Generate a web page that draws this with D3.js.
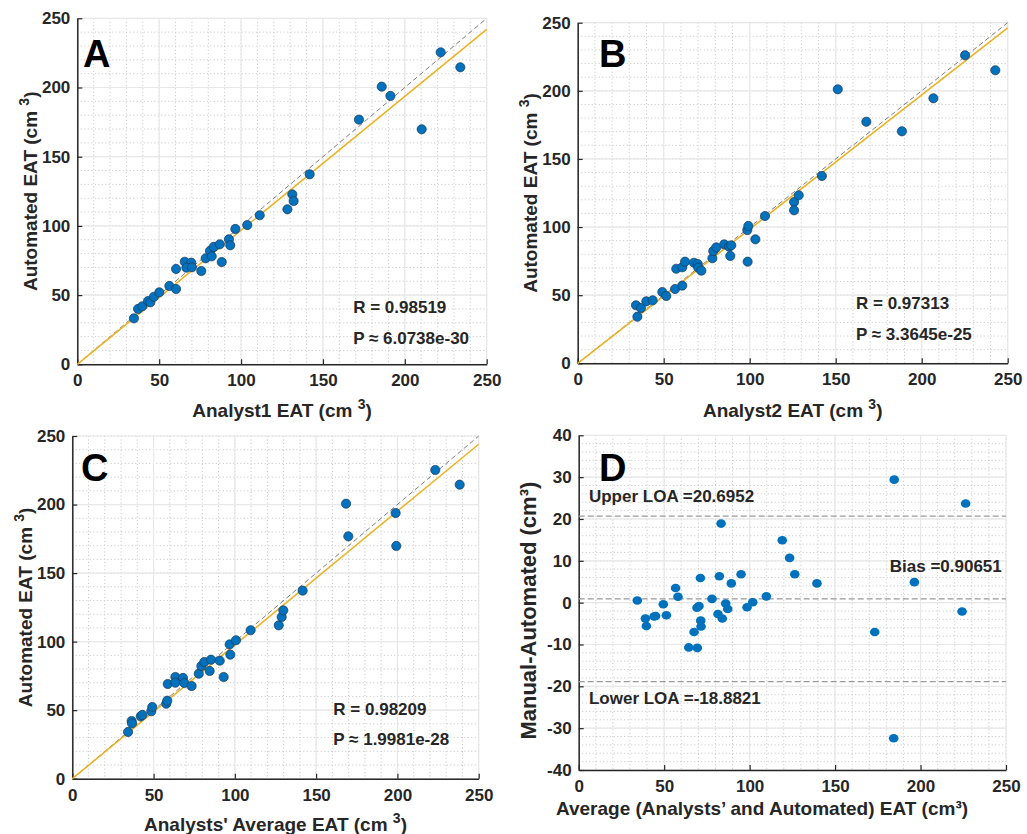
<!DOCTYPE html>
<html>
<head>
<meta charset="utf-8">
<script src="https://cdn.jsdelivr.net/npm/d3@7"></script>
<style>
  body { margin: 0; background: #fff; }
  text { font-family: "Liberation Sans", Arial, sans-serif; font-weight: bold; fill: #262626; }
</style>
</head>
<body>
<div id="chart"></div>
<script>
// values

// Panel A: Analyst1 vs automated
var aX = [34.6, 37.1, 39.7, 43.2, 44.6, 46.8, 50.1, 56.2, 60.3, 60.3, 65.6, 69.6, 66.6, 70.0, 75.7, 78.4, 81.0, 83.3, 82.1, 87.0, 88.2, 92.6, 93.4, 96.5, 103.8, 111.4, 128.3, 131.3, 132.1, 141.9, 172.0, 185.9, 191.2, 210.3, 221.9, 233.9];
var aY = [33.2, 40.0, 41.9, 45.7, 44.8, 48.8, 52.0, 56.6, 54.4, 68.9, 74.1, 73.4, 69.8, 70.1, 67.4, 76.6, 81.9, 84.8, 78.0, 86.7, 73.9, 90.3, 86.0, 97.8, 100.6, 107.7, 112.0, 122.8, 118.0, 137.3, 176.8, 200.6, 193.9, 169.8, 225.4, 214.6];

// Panel B: Analyst2 vs automated
var bX = [34.7, 33.9, 36.8, 39.9, 43.6, 49.2, 51.5, 56.6, 60.8, 57.3, 60.8, 62.4, 67.6, 69.8, 70.1, 71.9, 78.3, 78.8, 80.6, 85.2, 88.0, 89.3, 88.7, 98.8, 98.6, 99.2, 103.3, 108.9, 125.8, 125.8, 128.5, 142.0, 151.2, 167.8, 188.5, 206.8, 225.2, 242.8];
var bY = [34.2, 42.6, 40.6, 45.5, 46.2, 52.3, 49.4, 54.5, 57.0, 69.4, 70.5, 74.6, 73.8, 72.9, 70.2, 68.0, 77.1, 82.4, 85.1, 87.3, 85.6, 86.6, 78.8, 74.6, 97.8, 100.8, 91.0, 108.1, 118.4, 112.3, 123.3, 137.5, 201.1, 177.3, 170.3, 194.5, 226.1, 215.1];

// Panel C: analysts' average vs automated
var cX = [34.3, 36.5, 36.7, 42.1, 43.1, 48.6, 49.2, 57.8, 58.4, 58.7, 63.4, 63.4, 68.1, 68.9, 73.4, 77.8, 79.4, 81.2, 84.5, 85.3, 90.7, 93.1, 96.8, 97.2, 100.7, 109.7, 127.0, 128.8, 129.8, 141.7, 168.4, 169.8, 198.9, 199.3, 223.3, 238.3];
var cY = [34.1, 42.1, 40.4, 45.5, 46.5, 49.2, 52.3, 54.7, 56.9, 69.1, 74.2, 70.0, 73.5, 69.8, 67.6, 76.6, 82.2, 85.1, 78.6, 86.8, 86.1, 74.2, 98.0, 90.5, 101.0, 108.3, 111.9, 118.0, 122.8, 137.2, 200.6, 176.8, 193.8, 169.8, 225.2, 214.5];

// Panel D: Bland-Altman
var dX = [34.3, 39.0, 39.6, 44.1, 45.0, 51.3, 49.5, 56.7, 58.1, 71.2, 67.5, 64.4, 69.4, 69.2, 70.4, 71.4, 71.6, 78.0, 82.3, 81.5, 84.0, 86.0, 87.2, 89.3, 95.0, 98.5, 101.8, 109.8, 83.3, 119.1, 123.4, 126.4, 139.4, 184.6, 226.4, 196.4, 224.3, 173.2, 184.3];
var dY = [0.5, -3.8, -5.6, -3.3, -3.2, -3.0, -0.4, 3.5, 1.4, 5.9, -7.0, -10.7, -10.8, -1.2, -0.8, -4.3, -5.7, 0.9, 6.3, -2.7, -3.8, -0.2, -1.5, 4.6, 6.8, -1.1, 0.1, 1.5, 18.9, 14.9, 10.7, 6.8, 4.6, 29.4, 23.7, 4.9, -2.1, -7.0, -32.4];

// fit line slopes (through origin) and stats
var fitSlopes = [0.968, 0.985, 0.976];
var rTexts = ["R = 0.98519", "R = 0.97313", "R = 0.98209"];
var pTexts = ["P \u2248 6.0738e-30", "P \u2248 3.3645e-25", "P \u2248 1.9981e-28"];
var xLabels = ["Analyst1 EAT (cm", "Analyst2 EAT (cm", "Analysts' Average EAT (cm"];
var loaValues = [20.6952, 0.90651, -18.8821];
var loaLabels = ["Upper LOA =20.6952", "Bias =0.90651", "Lower LOA =-18.8821"];

var xTicks = [0, 50, 100, 150, 200, 250];
var yTicksD = [-40, -30, -20, -10, 0, 10, 20, 30, 40];

var svg = d3.select("#chart")
  .append("svg")
  .attr("width", 1027)
  .attr("height", 834);

// draws grid, axes and tick labels for one panel
function frame(g, x, y, xMinor, yMinor, xMajor, yMajor) {
  var w = x.range()[1], h = y.range()[0];

  g.selectAll(".minx").data(xMinor).enter().append("line")
    .attr("x1", d => x(d)).attr("x2", d => x(d)).attr("y1", 0).attr("y2", h)
    .attr("stroke", "#c4c4c4").attr("stroke-dasharray", "1,2.5");
  g.selectAll(".miny").data(yMinor).enter().append("line")
    .attr("y1", d => y(d)).attr("y2", d => y(d)).attr("x1", 0).attr("x2", w)
    .attr("stroke", "#c4c4c4").attr("stroke-dasharray", "1,2.5");
  g.selectAll(".majx").data(xMajor).enter().append("line")
    .attr("x1", d => x(d)).attr("x2", d => x(d)).attr("y1", 0).attr("y2", h)
    .attr("stroke", "#e8e8e8").attr("stroke-width", 1.2);
  g.selectAll(".majy").data(yMajor).enter().append("line")
    .attr("y1", d => y(d)).attr("y2", d => y(d)).attr("x1", 0).attr("x2", w)
    .attr("stroke", "#e8e8e8").attr("stroke-width", 1.2);

  var bottom = d3.axisBottom(x).tickValues(xMajor).tickSizeInner(-5).tickSizeOuter(0)
    .tickPadding(10).tickFormat(d => String(d));
  var left = d3.axisLeft(y).tickValues(yMajor).tickSizeInner(-5).tickSizeOuter(0)
    .tickPadding(7).tickFormat(d => String(d));

  var gb = g.append("g").attr("transform", `translate(0,${h})`).call(bottom);
  var gl = g.append("g").call(left);
  [gb, gl].forEach(function(a) {
    a.select(".domain").attr("stroke", "#262626").attr("stroke-width", 1.5);
    a.selectAll(".tick line").attr("stroke", "#262626").attr("stroke-width", 1.2);
    a.selectAll(".tick text")
      .style("font-family", "'Liberation Sans', Arial, sans-serif")
      .style("font-weight", "bold").style("font-size", "17px").attr("fill", "#262626");
  });
}

// axis label with raised "3"
function supLabel(g, txt, tx, ty, rotate) {
  var t = g.append("text")
    .attr("transform", `translate(${tx},${ty})` + (rotate ? " rotate(-90)" : ""))
    .attr("text-anchor", "middle")
    .attr("dy", "0.35em")
    .style("font-size", "19px");
  t.append("tspan").text(txt + " ");
  t.append("tspan").attr("dy", -8).style("font-size", "14px").text("3");
  t.append("tspan").attr("dy", 8).text(")");
}

var panels = [
  { xs: aX, ys: aY, left: 77.3, top: 18.3, w: 409.4, h: 346, letter: "A", lx: 83, ly: 53, ylx: 30, xly: 410, tx: 168.5, ry: 41.6, py: 18.8 },
  { xs: bX, ys: bY, left: 577.7, top: 22.7, w: 430, h: 340.6, letter: "B", lx: 599, ly: 53, ylx: 530, xly: 410, tx: 161.8, ry: 44.5, py: 21.3 },
  { xs: cX, ys: cY, left: 72.3, top: 436, w: 406.4, h: 342.7, letter: "C", lx: 81, ly: 467, ylx: 25, xly: 824, tx: 160.6, ry: 50.6, py: 28.7 }
];

panels.forEach(function(p, i) {
  var g = svg.append("g").attr("transform", `translate(${p.left},${p.top})`);
  var x = d3.scaleLinear().domain([0, 250]).range([0, p.w]);
  var y = d3.scaleLinear().domain([0, 250]).range([p.h, 0]);

  frame(g, x, y, d3.range(10, 251, 10), d3.range(10, 251, 10), xTicks, xTicks);

  // identity line
  g.append("line")
    .attr("x1", x(0)).attr("y1", y(0)).attr("x2", x(250)).attr("y2", y(250))
    .attr("stroke", "#808080").attr("stroke-width", 1).attr("stroke-dasharray", "5,3");

  // fitted line
  g.append("line")
    .attr("x1", x(0)).attr("y1", y(0)).attr("x2", x(250)).attr("y2", y(250 * fitSlopes[i]))
    .attr("stroke", "#EDB120").attr("stroke-width", 1.5);

  g.selectAll("circle")
    .data(p.xs.map((v, k) => [v, p.ys[k]]))
    .enter()
    .append("circle")
    .attr("cx", d => x(d[0]))
    .attr("cy", d => y(d[1]))
    .attr("r", 4.6)
    .attr("fill", "#0072BD")
    .attr("stroke", "#1d3a57")
    .attr("stroke-width", 0.7);

  g.append("text")
    .attr("x", x(p.tx)).attr("y", y(p.ry)).attr("dy", "0.35em")
    .style("font-size", "17px").attr("fill", "#111").text(rTexts[i]);
  g.append("text")
    .attr("x", x(p.tx)).attr("y", y(p.py)).attr("dy", "0.35em")
    .style("font-size", "17px").attr("fill", "#111").text(pTexts[i]);

  svg.append("text")
    .attr("x", p.lx).attr("y", p.ly).attr("dy", "0.36em")
    .style("font-size", "38px").style("fill", "#000").text(p.letter);

  supLabel(svg, xLabels[i], p.left + p.w / 2, p.xly, false);
  supLabel(svg, "Automated EAT (cm", p.ylx, p.top + p.h / 2, true);
});

// Panel D
var dLeft = 578.7, dTop = 435.3, dW = 427.3, dH = 334.7;
var gd = svg.append("g").attr("transform", `translate(${dLeft},${dTop})`);
var xd = d3.scaleLinear().domain([0, 250]).range([0, dW]);
var yd = d3.scaleLinear().domain([-40, 40]).range([dH, 0]);

frame(gd, xd, yd, d3.range(10, 251, 10), d3.range(-38, 40, 2), xTicks, yTicksD);

gd.selectAll(".loa")
  .data(loaValues)
  .enter()
  .append("line")
  .attr("x1", 0).attr("x2", dW)
  .attr("y1", d => yd(d)).attr("y2", d => yd(d))
  .attr("stroke", "#9a9a9a").attr("stroke-width", 1.2).attr("stroke-dasharray", "6,3");

gd.selectAll("ellipse")
  .data(dX.map((v, k) => [v, dY[k]]))
  .enter()
  .append("ellipse")
  .attr("cx", d => xd(d[0]))
  .attr("cy", d => yd(d[1]))
  .attr("rx", 4.8)
  .attr("ry", 4.3)
  .attr("fill", "#0072BD");

var loaPos = [[6, 25.5], [182, 8.7], [6, -22.7]];
loaLabels.forEach(function(t, k) {
  gd.append("text")
    .attr("x", xd(loaPos[k][0])).attr("y", yd(loaPos[k][1])).attr("dy", "0.35em")
    .style("font-size", "17px").attr("fill", "#1a1a1a").text(t);
});

svg.append("text")
  .attr("x", 599).attr("y", 467).attr("dy", "0.36em")
  .style("font-size", "38px").style("fill", "#000").text("D");

svg.append("text")
  .attr("x", 762).attr("y", 808).attr("dy", "0.35em")
  .attr("text-anchor", "middle")
  .style("font-size", "19px")
  .text("Average (Analysts\u2019 and Automated) EAT (cm\u00b3)");

svg.append("text")
  .attr("transform", `translate(528,${dTop + dH / 2 + 8}) rotate(-90)`)
  .attr("text-anchor", "middle")
  .attr("dy", "0.35em")
  .style("font-size", "22px")
  .text("Manual-Automated (cm\u00b3)");
</script>
</body>
</html>
